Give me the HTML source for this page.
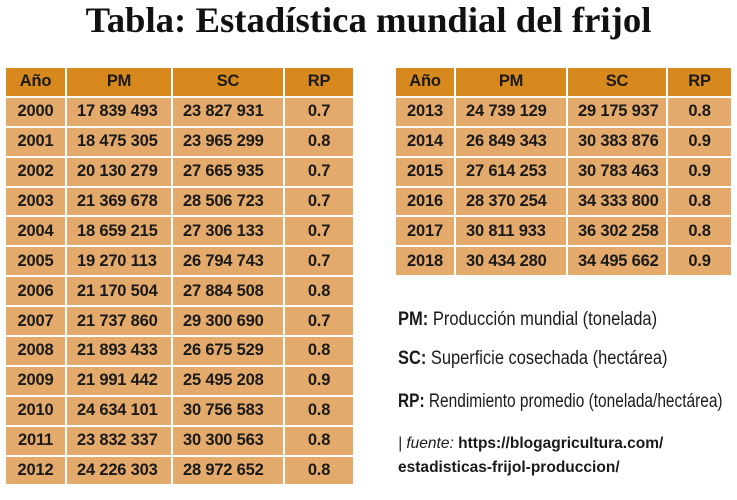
<!DOCTYPE html>
<html><head><meta charset="utf-8"><style>
body{margin:0;width:737px;height:500px;background:#fff;position:relative;overflow:hidden;font-family:"Liberation Sans",sans-serif}
h1{position:absolute;top:-1px;left:0;width:737px;margin:0;text-align:center;font:bold 36px "Liberation Serif",serif;color:#111;transform:scaleX(1.02)}
table{position:absolute;border-collapse:separate;border-spacing:2px;font-weight:bold;font-size:16.5px;color:#1a1a1a;letter-spacing:-0.2px}
td{height:27.9px;padding:0;background:#e3aa6c;vertical-align:middle}
tr:first-child td{background:#d7891d}
td.c{text-align:center}
td.l{padding-left:10px}
.n{position:absolute;left:398px;font-size:19px;color:#1a1a1a;white-space:nowrap;transform-origin:left top}
</style></head><body>
<h1>Tabla: Estadística mundial del frijol</h1>
<table style="left:4px;top:66px">
<tr><td class="c" style="width:59px">Año</td><td class="c" style="width:104px">PM</td><td class="c" style="width:110px">SC</td><td class="c" style="width:68px">RP</td></tr>
<tr><td class="c">2000</td><td class="l">17 839 493</td><td class="l">23 827 931</td><td class="c">0.7</td></tr>
<tr><td class="c">2001</td><td class="l">18 475 305</td><td class="l">23 965 299</td><td class="c">0.8</td></tr>
<tr><td class="c">2002</td><td class="l">20 130 279</td><td class="l">27 665 935</td><td class="c">0.7</td></tr>
<tr><td class="c">2003</td><td class="l">21 369 678</td><td class="l">28 506 723</td><td class="c">0.7</td></tr>
<tr><td class="c">2004</td><td class="l">18 659 215</td><td class="l">27 306 133</td><td class="c">0.7</td></tr>
<tr><td class="c">2005</td><td class="l">19 270 113</td><td class="l">26 794 743</td><td class="c">0.7</td></tr>
<tr><td class="c">2006</td><td class="l">21 170 504</td><td class="l">27 884 508</td><td class="c">0.8</td></tr>
<tr><td class="c">2007</td><td class="l">21 737 860</td><td class="l">29 300 690</td><td class="c">0.7</td></tr>
<tr><td class="c">2008</td><td class="l">21 893 433</td><td class="l">26 675 529</td><td class="c">0.8</td></tr>
<tr><td class="c">2009</td><td class="l">21 991 442</td><td class="l">25 495 208</td><td class="c">0.9</td></tr>
<tr><td class="c">2010</td><td class="l">24 634 101</td><td class="l">30 756 583</td><td class="c">0.8</td></tr>
<tr><td class="c">2011</td><td class="l">23 832 337</td><td class="l">30 300 563</td><td class="c">0.8</td></tr>
<tr><td class="c">2012</td><td class="l">24 226 303</td><td class="l">28 972 652</td><td class="c">0.8</td></tr>
</table>
<table style="left:394px;top:66px">
<tr><td class="c" style="width:58px">Año</td><td class="c" style="width:110px">PM</td><td class="c" style="width:98px">SC</td><td class="c" style="width:63px">RP</td></tr>
<tr><td class="c">2013</td><td class="l">24 739 129</td><td class="l">29 175 937</td><td class="c">0.8</td></tr>
<tr><td class="c">2014</td><td class="l">26 849 343</td><td class="l">30 383 876</td><td class="c">0.9</td></tr>
<tr><td class="c">2015</td><td class="l">27 614 253</td><td class="l">30 783 463</td><td class="c">0.9</td></tr>
<tr><td class="c">2016</td><td class="l">28 370 254</td><td class="l">34 333 800</td><td class="c">0.8</td></tr>
<tr><td class="c">2017</td><td class="l">30 811 933</td><td class="l">36 302 258</td><td class="c">0.8</td></tr>
<tr><td class="c">2018</td><td class="l">30 434 280</td><td class="l">34 495 662</td><td class="c">0.9</td></tr>
</table>
<div class="n" style="top:309px;transform:scaleX(0.87)"><b>PM:</b> Producción mundial (tonelada)</div>
<div class="n" style="top:348px;transform:scaleX(0.865)"><b>SC:</b> Superficie cosechada (hectárea)</div>
<div class="n" style="top:391px;transform:scaleX(0.813)"><b>RP:</b> Rendimiento promedio (tonelada/hectárea)</div>
<div class="n" style="top:432px;line-height:24px;font-size:16px;transform:scaleX(0.97)"><i style="font-weight:normal">| fuente:</i> <b>https://blogagricultura.com/<br>estadisticas-frijol-produccion/</b></div>
</body></html>
